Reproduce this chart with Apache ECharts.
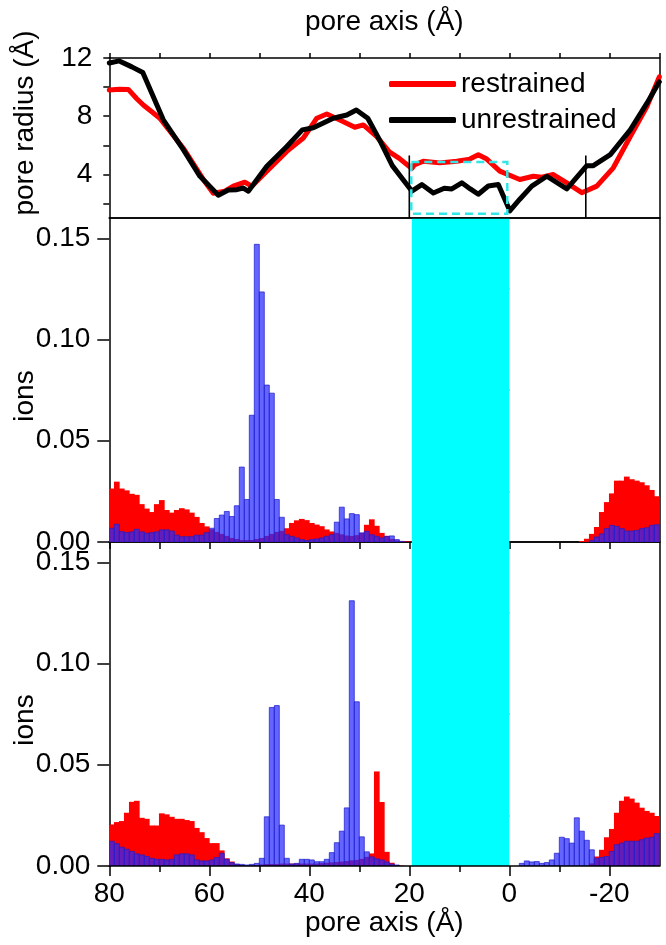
<!DOCTYPE html>
<html><head><meta charset="utf-8">
<script src="https://cdn.jsdelivr.net/npm/echarts@6/dist/echarts.min.js"></script>
<style>html,body{margin:0;padding:0;background:#fff}#chart{width:666px;height:945px}</style>
</head><body><div id="chart"></div>
<script>
const FONT = 'Liberation Sans, Arial, sans-serif';

// ---- pore radius profiles: [pore axis (Å), radius (Å)] ----
const restrainedRadius = [
  [80, 9.8], [78, 9.85], [76.2, 9.84], [74.5, 9.2], [73.2, 8.77], [71.5, 8.3], [69.9, 7.86],
  [65.2, 5.8], [61.2, 3.65], [59.2, 2.7], [56.9, 2.84], [55.2, 3.19], [52.9, 3.46], [51.5, 3.19],
  [48.5, 4.22], [44.5, 5.58], [41.2, 6.5], [39.8, 7.2], [38.5, 7.86], [36.5, 8.15], [33.9, 7.74],
  [30.9, 7.24], [29.2, 7.4], [26.5, 6.6], [24, 5.55], [22, 5.1], [19.5, 4.4], [19, 4.65],
  [17.2, 4.9], [13.9, 4.79], [10.5, 4.9], [7.9, 5.05], [6.2, 5.35], [4.5, 5.05], [1.9, 4.22],
  [-2.1, 3.65], [-4.8, 3.87], [-6.5, 3.8], [-8.8, 3.99], [-11.5, 3.42], [-14.5, 2.74],
  [-17.5, 3.19], [-20.8, 4.45], [-24.2, 6.6], [-27.5, 8.65], [-30, 10.7]
];
const unrestrainedRadius = [
  [80, 11.66], [78, 11.8], [75.5, 11.39], [73.3, 11.0], [69.2, 7.75], [65.2, 5.7], [61.9, 3.88],
  [58.2, 2.56], [56.2, 2.92], [54.5, 2.95], [53.2, 3.06], [52.2, 2.84], [48.5, 4.56], [44.5, 5.92],
  [41.4, 7.06], [39.2, 7.2], [35.2, 7.86], [32.5, 8.08], [30.6, 8.43], [28.3, 7.86], [25.9, 6.33],
  [23.4, 4.6], [19.5, 2.85], [17.5, 3.3], [15.2, 2.72], [13, 3.05], [11.5, 3.0], [9.5, 3.42],
  [7.8, 3.0], [6.2, 2.63], [4.2, 3.2], [2.2, 3.3], [-0.1, 1.49], [-2.1, 2.29], [-4.5, 3.19],
  [-7.5, 3.87], [-11.5, 3.0], [-15.5, 4.6], [-16.8, 4.6], [-20.2, 5.36], [-24.2, 7.06],
  [-27.5, 8.88], [-30, 10.36]
];

// ---- ion histograms: one value per 1 Å bin, bins listed by upper edge 80, 79, ... -29 ----
const binWidth = 1;
const binUpperEdges = Array.from({length: 110}, (_, i) => 80 - i);

const midRed = [
  0.0264, 0.0298, 0.0264, 0.0255, 0.0238, 0.0233, 0.0187, 0.0165, 0.0148, 0.0187,
  0.0207, 0.0158, 0.0145, 0.0158, 0.0167, 0.0161, 0.0145, 0.0124, 0.0094, 0.0077,
  0.0063, 0.0050, 0.0040, 0.0030, 0.0020, 0.0015, 0.0010, 0.0010, 0.0010, 0.0015,
  0.0020, 0.0030, 0.0040, 0.0050, 0.0055, 0.0068, 0.0094, 0.0107, 0.0114, 0.0108,
  0.0094, 0.0086, 0.0078, 0.0062, 0.0052, 0.0045, 0.0038, 0.0032, 0.0030, 0.0034,
  0.0045, 0.0085, 0.0112, 0.0080, 0.0045, 0.0030, 0.0015, 0.0008, 0.0005, 0.0003,
  0.0002,
  0, 0, 0, 0, 0, 0, 0, 0, 0, 0, 0, 0, 0, 0, 0, 0, 0, 0, 0, 0,
  0, 0, 0, 0, 0, 0, 0, 0, 0, 0, 0, 0, 0,
  0.0005, 0.0016, 0.0040, 0.0074, 0.0148, 0.0197, 0.0240, 0.0303, 0.0303, 0.0323,
  0.0310, 0.0303, 0.0295, 0.0280, 0.0257, 0.0226
];
const midBlue = [
  0.0068, 0.0088, 0.0051, 0.0046, 0.0050, 0.0063, 0.0050, 0.0043, 0.0046, 0.0050,
  0.0060, 0.0060, 0.0054, 0.0034, 0.0026, 0.0026, 0.0026, 0.0034, 0.0034, 0.0046,
  0.0068, 0.0116, 0.0133, 0.0151, 0.0126, 0.0179, 0.0370, 0.0210, 0.0626, 0.1470,
  0.1235, 0.0775, 0.0735, 0.0210, 0.0122, 0.0036, 0.0028, 0.0020, 0.0012, 0.0007,
  0.0012, 0.0015, 0.0020, 0.0028, 0.0036, 0.0098, 0.0172, 0.0114, 0.0140, 0.0135,
  0.0045, 0.0053, 0.0036, 0.0028, 0.0020, 0.0028, 0.0030, 0.0012, 0.0003, 0,
  0,
  0, 0, 0, 0, 0, 0, 0, 0, 0, 0, 0, 0, 0, 0, 0, 0, 0, 0, 0, 0,
  0, 0, 0, 0, 0, 0, 0, 0, 0, 0, 0, 0, 0, 0, 0,
  0.0008, 0.0025, 0.0040, 0.0066, 0.0082, 0.0077, 0.0066, 0.0054, 0.0054, 0.0057,
  0.0066, 0.0070, 0.0082, 0.0085
];
const botRed = [
  0.0205, 0.0217, 0.0222, 0.0263, 0.0317, 0.0322, 0.0238, 0.0233, 0.0200, 0.0200,
  0.0260, 0.0255, 0.0243, 0.0233, 0.0233, 0.0227, 0.0222, 0.0188, 0.0167, 0.0138,
  0.0113, 0.0113, 0.0077, 0.0038, 0.0022, 0.0010, 0.0005, 0.0003, 0.0003, 0.0005,
  0.0008, 0.0010, 0.0010, 0.0010, 0.0012, 0.0012, 0.0012, 0.0012, 0.0012, 0.0012,
  0.0012, 0.0012, 0.0014, 0.0016, 0.0018, 0.0020, 0.0022, 0.0025, 0.0028, 0.0030,
  0.0035, 0.0045, 0.0062, 0.0467, 0.0316, 0.0070, 0.0016, 0.0005, 0.0002, 0,
  0,
  0, 0, 0, 0, 0, 0, 0, 0, 0, 0, 0, 0, 0, 0, 0, 0, 0, 0, 0, 0,
  0, 0, 0, 0, 0, 0, 0, 0, 0, 0, 0, 0, 0, 0, 0,
  0.0013, 0.0047, 0.0080, 0.0142, 0.0183, 0.0263, 0.0322, 0.0343, 0.0333, 0.0313,
  0.0288, 0.0272, 0.0263, 0.0247
];
const botBlue = [
  0.0122, 0.0110, 0.0093, 0.0083, 0.0072, 0.0060, 0.0055, 0.0047, 0.0038, 0.0033,
  0.0033, 0.0030, 0.0033, 0.0055, 0.0060, 0.0060, 0.0055, 0.0030, 0.0025, 0.0025,
  0.0030, 0.0042, 0.0063, 0.0033, 0.0017, 0.0010, 0.0008, 0.0005, 0.0008, 0.0013,
  0.0038, 0.0243, 0.0783, 0.0792, 0.0202, 0.0038, 0.0010, 0.0013, 0.0033, 0.0033,
  0.0030, 0.0021, 0.0021, 0.0033, 0.0066, 0.0115, 0.0172, 0.0287, 0.1310, 0.0811,
  0.0144, 0.0070, 0.0045, 0.0035, 0.0030, 0.0020, 0.0010, 0.0005, 0, 0,
  0,
  0, 0, 0, 0, 0, 0, 0, 0, 0, 0, 0, 0, 0, 0, 0, 0, 0, 0, 0, 0,
  0, 0.0013, 0.0025, 0.0020, 0.0022, 0.0013, 0.0017, 0.0030, 0.0063, 0.0142,
  0.0135, 0.0113, 0.0238, 0.0172, 0.0127, 0.0080, 0.0038, 0.0042, 0.0047, 0.0072,
  0.0105, 0.0113, 0.0122, 0.0122, 0.0122, 0.0130, 0.0138, 0.0142, 0.0160
];

// ---- tick labels / annotations ----
const xTickAll = [80, 70, 60, 50, 40, 30, 20, 10, 0, -10, -20, -30];
const xMajorLabels = [80, 60, 40, 20, 0, -20];
const xMinorTicks = [70, 50, 30, 10, -10];
const radiusLabels = [4, 8, 12];
const radiusTicks = [2, 4, 6, 8, 10, 12];
const ionLabels = [0, 0.05, 0.10, 0.15];
const ionMinorTicks = [0.025, 0.075, 0.125];
const channelBand = [19.5, 0];          // cyan region along the pore axis
const poreMarkerX = [20, -15.3];        // thin black markers in the radius panel
const poreMarkerTop = 5.3;
const filterBoxX = [19.6, 0.4];
const filterBoxR = [1.3, 4.85];

const X_MIN = -30, X_MAX = 80, R_MIN = 1, R_MAX = 12, ION_MAX = 0.16;

const pair = (arr) => arr.map((v, i) => [binUpperEdges[i], v]);
const lineStyle = {color: '#000', width: 1.5};
const txt = {color: '#000', fontFamily: FONT, fontSize: 28};

function xAx(grid, position, opts) {
  return Object.assign({
    type: 'value', gridIndex: grid, position, min: X_MIN, max: X_MAX, inverse: true,
    axisLine: {show: true, onZero: false, lineStyle},
    axisTick: {show: false}, axisLabel: {show: false}, splitLine: {show: false},
    nameMoveOverlap: false
  }, opts || {});
}
function yAx(grid, position, min, max, opts) {
  return Object.assign({
    type: 'value', gridIndex: grid, position, min, max,
    axisLine: {show: true, onZero: false, lineStyle},
    axisTick: {show: false}, axisLabel: {show: false}, splitLine: {show: false},
    nameMoveOverlap: false
  }, opts || {});
}

function barRenderer(fill, stroke, lw, pad) {
  return function (params, api) {
    const u = api.value(0), v = api.value(1);
    if (!(v > 0)) return null;
    const a = api.coord([u, v]);
    const b = api.coord([u - binWidth, 0]);
    const x0 = Math.min(a[0], b[0]) - pad, x1 = Math.max(a[0], b[0]) + pad;
    return {type: 'rect', shape: {x: x0, y: a[1], width: x1 - x0, height: b[1] - a[1]},
            style: {fill, stroke, lineWidth: lw}};
  };
}
function bandRenderer(params, api) {
  const a = api.coord([api.value(0), ION_MAX]);
  const b = api.coord([api.value(1), 0]);
  return {type: 'rect', shape: {x: Math.min(a[0], b[0]), y: a[1], width: Math.abs(b[0] - a[0]), height: b[1] - a[1]},
          style: {fill: '#00ffff'}};
}

const gridBase = {left: 109.3, width: 550, outerBoundsMode: 'none', containLabel: false};
const chart = echarts.init(document.getElementById('chart'));
chart.setOption({
  animation: false,
  backgroundColor: '#fff',
  textStyle: {fontFamily: FONT},
  grid: [
    Object.assign({top: 58, height: 160}, gridBase),
    Object.assign({top: 218, height: 324}, gridBase),
    Object.assign({top: 542, height: 324}, gridBase)
  ],
  legend: {
    data: [{name: 'restrained', icon: 'roundRect'}, {name: 'unrestrained', icon: 'roundRect'}],
    orient: 'vertical', left: 384, top: 63, itemWidth: 67, itemHeight: 6, itemGap: 4,
    selectedMode: false,
    textStyle: {color: '#000', fontFamily: FONT, fontSize: 28, lineHeight: 32}
  },
  xAxis: [
    xAx(0, 'top', {axisTick: {show: true, inside: false, length: 5, lineStyle, customValues: xTickAll},
      name: 'pore axis (Å)', nameLocation: 'middle', nameGap: 22, nameTextStyle: txt}),
    xAx(0, 'bottom', {z: 10}),
    xAx(1, 'top'),
    xAx(1, 'bottom', {axisTick: {show: true, inside: false, length: 7, lineStyle,
      customValues: [80, 70, 60, 50, 40, 30, 20, 10, 0, -10, -20]}}),
    xAx(2, 'top'),
    xAx(2, 'bottom', {z: 10,
      axisTick: {show: true, inside: false, length: 10, lineStyle, customValues: xMajorLabels},
      axisLabel: {show: true, margin: 14, customValues: xMajorLabels, color: '#000', fontFamily: FONT, fontSize: 28},
      name: 'pore axis (Å)', nameLocation: 'middle', nameGap: 43, nameTextStyle: txt}),
    xAx(2, 'bottom', {z: 10, axisLine: {show: false},
      axisTick: {show: true, inside: false, length: 6, lineStyle, customValues: xMinorTicks}})
  ],
  yAxis: [
    yAx(0, 'left', R_MIN, R_MAX, {
      axisTick: {show: true, inside: false, length: 6, lineStyle, customValues: radiusTicks},
      axisLabel: {show: true, margin: 17, customValues: radiusLabels, color: '#000', fontFamily: FONT, fontSize: 28},
      name: 'pore radius (Å)', nameLocation: 'middle', nameGap: 70,
      nameTextStyle: Object.assign({}, txt, {padding: [0, 0, 0, 30]})}),
    yAx(0, 'right', R_MIN, R_MAX),
    yAx(1, 'left', 0, ION_MAX, {
      axisTick: {show: true, inside: false, length: 12, lineStyle, customValues: ionLabels},
      axisLabel: {show: true, margin: 19, customValues: ionLabels, color: '#000', fontFamily: FONT, fontSize: 28,
        formatter: (v) => Number(v).toFixed(2)},
      name: 'ions', nameLocation: 'middle', nameGap: 70,
      nameTextStyle: Object.assign({}, txt, {padding: [0, 32, 0, 0]})}),
    yAx(1, 'left', 0, ION_MAX, {axisLine: {show: false},
      axisTick: {show: true, inside: false, length: 7, lineStyle, customValues: ionMinorTicks}}),
    yAx(1, 'right', 0, ION_MAX),
    yAx(2, 'left', 0, ION_MAX, {
      axisTick: {show: true, inside: false, length: 12, lineStyle, customValues: ionLabels},
      axisLabel: {show: true, margin: 19, customValues: ionLabels, color: '#000', fontFamily: FONT, fontSize: 28,
        formatter: (v) => Number(v).toFixed(2)},
      name: 'ions', nameLocation: 'middle', nameGap: 70,
      nameTextStyle: Object.assign({}, txt, {padding: [0, 32, 0, 0]})}),
    yAx(2, 'left', 0, ION_MAX, {axisLine: {show: false},
      axisTick: {show: true, inside: false, length: 7, lineStyle, customValues: ionMinorTicks}}),
    yAx(2, 'right', 0, ION_MAX)
  ],
  series: [
    {name: 'restrained', type: 'line', xAxisIndex: 0, yAxisIndex: 0, data: restrainedRadius,
     showSymbol: false, symbol: 'none', color: '#ff0000', lineStyle: {width: 5, color: '#ff0000', cap: 'round', join: 'round'}, z: 3},
    {name: 'unrestrained', type: 'line', xAxisIndex: 0, yAxisIndex: 0, data: unrestrainedRadius,
     showSymbol: false, symbol: 'none', color: '#000000', lineStyle: {width: 5, color: '#000000', cap: 'round', join: 'round'}, z: 4},
    {type: 'custom', xAxisIndex: 0, yAxisIndex: 0, z: 5, silent: true,
     data: poreMarkerX.map(x => [x, poreMarkerTop]),
     renderItem: (params, api) => {
       const a = api.coord([api.value(0), api.value(1)]);
       const b = api.coord([api.value(0), R_MIN]);
       return {type: 'line', shape: {x1: a[0], y1: a[1], x2: b[0], y2: b[1]}, style: {stroke: '#000', lineWidth: 1.6}};
     }},
    {type: 'custom', xAxisIndex: 0, yAxisIndex: 0, z: 6, silent: true,
     data: [[filterBoxX[0], filterBoxR[0], filterBoxX[1], filterBoxR[1]]],
     renderItem: (params, api) => {
       const a = api.coord([api.value(0), api.value(3)]);
       const b = api.coord([api.value(2), api.value(1)]);
       return {type: 'rect', shape: {x: Math.min(a[0], b[0]), y: a[1], width: Math.abs(b[0] - a[0]), height: b[1] - a[1]},
               style: {fill: 'none', stroke: '#33e6e6', lineWidth: 2.5, lineDash: [8, 5]}};
     }},
    {type: 'custom', xAxisIndex: 3, yAxisIndex: 2, z: 2, clip: true, silent: true,
     data: pair(midRed), renderItem: barRenderer('#ff0000', null, 0, 0.35)},
    {type: 'custom', xAxisIndex: 3, yAxisIndex: 2, z: 3, clip: true, silent: true,
     data: pair(midBlue), renderItem: barRenderer('rgba(40,40,255,0.72)', 'rgba(30,30,200,0.9)', 0.8, 0)},
    {type: 'custom', xAxisIndex: 5, yAxisIndex: 5, z: 2, clip: true, silent: true,
     data: pair(botRed), renderItem: barRenderer('#ff0000', null, 0, 0.35)},
    {type: 'custom', xAxisIndex: 5, yAxisIndex: 5, z: 3, clip: true, silent: true,
     data: pair(botBlue), renderItem: barRenderer('rgba(40,40,255,0.72)', 'rgba(30,30,200,0.9)', 0.8, 0)},
    {type: 'custom', xAxisIndex: 3, yAxisIndex: 2, z: 7, silent: true,
     data: [channelBand], renderItem: bandRenderer},
    {type: 'custom', xAxisIndex: 5, yAxisIndex: 5, z: 7, silent: true,
     data: [channelBand], renderItem: bandRenderer}
  ]
});
</script>
</body></html>
